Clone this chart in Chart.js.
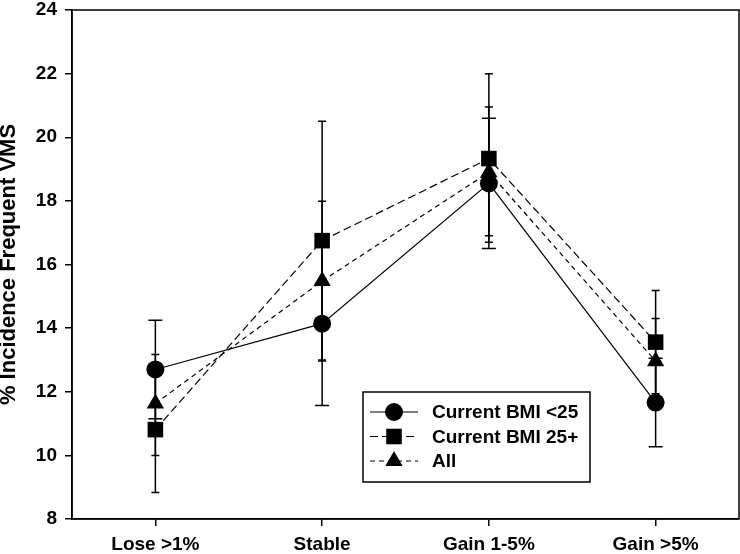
<!DOCTYPE html>
<html>
<head>
<meta charset="utf-8">
<script src="https://cdn.jsdelivr.net/npm/chart.js@4.4.1/dist/chart.umd.min.js"></script>
<style>
  html, body { margin: 0; padding: 0; background: #fff; }
</style>
</head>
<body>
<canvas id="vmsChart" width="740" height="554"></canvas>
<script>
// categories of weight change
const categories = ['Lose >1%', 'Stable', 'Gain 1-5%', 'Gain >5%'];

// Current BMI <25 (circles)
const bmiUnder25 = [12.7, 14.14, 18.55, 11.66];
const bmiUnder25Low = [11.15, 11.57, 16.5, 10.27];
const bmiUnder25High = [14.25, 16.71, 20.6, 13.05];

// Current BMI 25+ (squares)
const bmi25Plus = [10.81, 16.75, 19.33, 13.56];
const bmi25PlusLow = [8.83, 13.0, 16.7, 11.94];
const bmi25PlusHigh = [12.79, 20.5, 22.0, 15.18];

// All (triangles)
const allWomen = [11.63, 15.48, 18.9, 12.96];
const allWomenLow = [10.0, 12.97, 16.9, 11.62];
const allWomenHigh = [13.17, 17.99, 20.95, 14.3];

const yMin = 8;
const yMax = 24;
const yStep = 2;

const FONT = { family: '"Liberation Sans", Arial, sans-serif', size: 19, weight: 'bold' };

// error bars, drawn under the markers
const errorBarPlugin = {
    id: 'errorBars',
    beforeDatasetsDraw(chart) {
        const ctx = chart.ctx;
        const yScale = chart.scales.y;
        ctx.save();
        ctx.strokeStyle = '#000';
        ctx.lineWidth = 1.5;
        chart.data.datasets.forEach((ds, di) => {
            const meta = chart.getDatasetMeta(di);
            meta.data.forEach((pt, i) => {
                const yLo = yScale.getPixelForValue(ds.errLow[i]);
                const yHi = yScale.getPixelForValue(ds.errHigh[i]);
                const half = ds.capWidth / 2;
                ctx.beginPath();
                ctx.moveTo(pt.x, yLo);
                ctx.lineTo(pt.x, yHi);
                ctx.moveTo(pt.x - half, yLo);
                ctx.lineTo(pt.x + half, yLo);
                ctx.moveTo(pt.x - half, yHi);
                ctx.lineTo(pt.x + half, yHi);
                ctx.stroke();
            });
        });
        ctx.restore();
    }
};

function drawMarker(ctx, style, r, x, y) {
    ctx.beginPath();
    if (style === 'circle') {
        ctx.arc(x, y, r, 0, Math.PI * 2);
    } else if (style === 'rect') {
        const s = r * Math.SQRT1_2;
        ctx.rect(x - s, y - s, s * 2, s * 2);
    } else {
        ctx.moveTo(x, y - r);
        ctx.lineTo(x + r * 0.866, y + r / 2);
        ctx.lineTo(x - r * 0.866, y + r / 2);
        ctx.closePath();
    }
    ctx.fill();
}

// frame round the plot + boxed legend
const framePlugin = {
    id: 'frameAndLegend',
    afterDraw(chart, args, opts) {
        const ctx = chart.ctx;
        const a = chart.chartArea;
        ctx.save();
        ctx.strokeStyle = '#000';
        ctx.lineWidth = 1.5;
        ctx.strokeRect(a.left, a.top, a.right - a.left, a.bottom - a.top);

        const box = opts.box;
        ctx.fillStyle = '#fff';
        ctx.fillRect(box.x, box.y, box.w, box.h);
        ctx.strokeRect(box.x, box.y, box.w, box.h);

        ctx.font = `bold ${FONT.size}px ${FONT.family}`;
        ctx.textBaseline = 'middle';
        chart.data.datasets.forEach((ds, i) => {
            const y = box.y + opts.firstRow + i * opts.rowGap;
            ctx.strokeStyle = '#000';
            ctx.fillStyle = '#000';
            ctx.lineWidth = 1.2;
            ctx.setLineDash(ds.borderDash || []);
            ctx.beginPath();
            ctx.moveTo(box.x + opts.lineStart, y);
            ctx.lineTo(box.x + opts.lineEnd, y);
            ctx.stroke();
            ctx.setLineDash([]);
            drawMarker(ctx, ds.pointStyle, ds.pointRadius,
                (box.x + opts.lineStart + box.x + opts.lineEnd) / 2, y);
            ctx.fillText(ds.label, box.x + opts.textX, y + 1);
        });
        ctx.restore();
    }
};

const ctx = document.getElementById('vmsChart').getContext('2d');

new Chart(ctx, {
    type: 'line',
    data: {
        labels: categories,
        datasets: [
            {
                label: 'Current BMI <25',
                data: bmiUnder25,
                errLow: bmiUnder25Low,
                errHigh: bmiUnder25High,
                capWidth: 14,
                borderColor: '#000',
                backgroundColor: '#000',
                borderWidth: 1.2,
                pointStyle: 'circle',
                pointRadius: 9,
                pointBorderWidth: 0,
                tension: 0
            },
            {
                label: 'Current BMI 25+',
                data: bmi25Plus,
                errLow: bmi25PlusLow,
                errHigh: bmi25PlusHigh,
                capWidth: 8,
                borderColor: '#000',
                backgroundColor: '#000',
                borderWidth: 1.2,
                borderDash: [8, 4],
                pointStyle: 'rect',
                pointRadius: 11,
                pointBorderWidth: 0,
                tension: 0
            },
            {
                label: 'All',
                data: allWomen,
                errLow: allWomenLow,
                errHigh: allWomenHigh,
                capWidth: 8,
                borderColor: '#000',
                backgroundColor: '#000',
                borderWidth: 1.2,
                borderDash: [5, 4],
                pointStyle: 'triangle',
                pointRadius: 10,
                pointBorderWidth: 0,
                tension: 0
            }
        ]
    },
    options: {
        responsive: false,
        animation: false,
        devicePixelRatio: 1,
        // no auto padding for the point radius, the plot box must fill the canvas
        layout: { autoPadding: false, padding: { top: 10, right: 1, left: 0, bottom: 0 } },
        scales: {
            x: {
                type: 'category',
                offset: true,
                grid: {
                    offset: false,
                    drawOnChartArea: false,
                    drawTicks: true,
                    tickLength: 7,
                    color: '#000',
                    lineWidth: 1.5
                },
                border: { color: '#000', width: 1.5 },
                ticks: { color: '#000', font: FONT, padding: 7, maxRotation: 0, autoSkip: false },
                afterFit: (scale) => {
                    scale.height = 35;
                    scale.paddingLeft = 0;
                    scale.paddingRight = 0;
                }
            },
            y: {
                min: yMin,
                max: yMax,
                grid: {
                    drawOnChartArea: false,
                    drawTicks: true,
                    tickLength: 7,
                    color: '#000',
                    lineWidth: 1.5
                },
                border: { color: '#000', width: 1.5 },
                ticks: { stepSize: yStep, color: '#000', font: FONT, padding: 8 },
                title: {
                    display: true,
                    text: '% Incidence Frequent VMS',
                    color: '#000',
                    font: { family: FONT.family, size: 22, weight: 'bold', lineHeight: 0.8 },
                    padding: { top: 0, bottom: 0 }
                },
                afterFit: (scale) => {
                    scale.width = 72;
                    scale.paddingTop = 0;
                    scale.paddingBottom = 0;
                }
            }
        },
        plugins: {
            legend: { display: false },
            tooltip: { enabled: false },
            frameAndLegend: {
                box: { x: 363, y: 392, w: 227, h: 90 },
                firstRow: 20,
                rowGap: 24.5,
                lineStart: 7,
                lineEnd: 55,
                textX: 69
            }
        }
    },
    plugins: [errorBarPlugin, framePlugin]
});
</script>
</body>
</html>
